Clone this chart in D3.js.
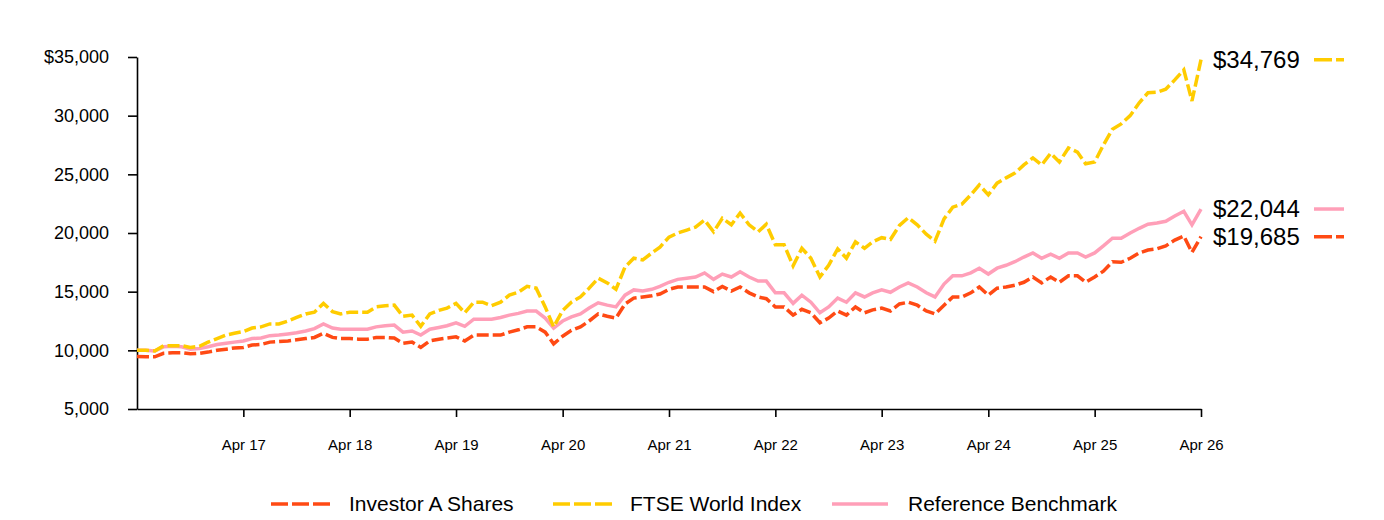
<!DOCTYPE html>
<html>
<head>
<meta charset="utf-8">
<script src="https://cdn.jsdelivr.net/npm/d3@7"></script>
<style>
  body { margin: 0; background: #fff; }
  text { font-family: "Liberation Sans", Arial, sans-serif; fill: #000; }
</style>
</head>
<body>
<div id="chart"></div>
<script>
// monthly values, Apr 2016 .. Apr 2026
var investorA = [
  9475, 9450, 9450, 9750, 9800, 9800, 9700, 9750, 9850, 10000, 10100, 10200,
  10250, 10450, 10500, 10700, 10750, 10800, 10900, 11000, 11100, 11450, 11100, 11000,
  11000, 10950, 10950, 11100, 11100, 11050, 10600, 10700, 10250, 10800, 10950, 11050,
  11150, 10800, 11300, 11300, 11300, 11300, 11550, 11750, 12000, 12000, 11550, 10550,
  11200, 11700, 12000, 12500, 13100, 12900, 12750, 13950, 14450, 14550, 14650, 14800,
  15200, 15400, 15400, 15400, 15400, 15000, 15450, 15050, 15400, 14900, 14550, 14400,
  13700, 13700, 13000, 13500, 13200, 12350, 12750, 13350, 13000, 13700, 13200, 13450,
  13600, 13350, 13950, 14100, 13850, 13350, 13100, 13850, 14550, 14550, 14900, 15400,
  14700, 15300, 15400, 15550, 15800, 16250, 15750, 16250, 15800, 16350, 16350, 15800,
  16250, 16750, 17550, 17500, 17850, 18300, 18550, 18650, 18900, 19400, 19750, 18350,
  19685
];
var ftseWorld = [
  10000, 10000, 9950, 10400, 10400, 10400, 10250, 10350, 10700, 11000, 11300, 11450,
  11600, 11900, 12000, 12250, 12250, 12500, 12800, 13100, 13250, 14000, 13300, 13100,
  13250, 13250, 13250, 13700, 13800, 13850, 12900, 13000, 12050, 13100, 13400, 13600,
  14000, 13200, 14100, 14100, 13800, 14100, 14700, 14950, 15450, 15300, 13700, 12000,
  13400, 14100, 14550, 15300, 16150, 15750, 15200, 17100, 17850, 17700, 18300, 18800,
  19650, 20000, 20250, 20500, 21100, 20100, 21250, 20700, 21700, 20700, 20100, 20750,
  19000, 19000, 17200, 18700, 17850, 16250, 17250, 18650, 17850, 19250, 18700, 19250,
  19600, 19450, 20650, 21300, 20700, 19900, 19300, 21200, 22200, 22450, 23250, 24100,
  23250, 24250, 24700, 25100, 25800, 26400, 25800, 26800, 26050, 27250, 26900, 25900,
  26050, 27500, 28850, 29300, 30000, 31100, 31950, 32000, 32250, 33050, 33900, 31250,
  34769
];
var refBenchmark = [
  10000, 10000, 9950, 10300, 10350, 10300, 10100, 10150, 10300, 10500, 10600, 10700,
  10800, 11000, 11050, 11250, 11300, 11400, 11500, 11650, 11850, 12250, 11900, 11800,
  11800, 11800, 11800, 12000, 12100, 12150, 11550, 11650, 11300, 11800, 11950, 12100,
  12350, 12050, 12650, 12650, 12650, 12800, 13000, 13150, 13350, 13350, 12750, 11900,
  12500, 12850, 13100, 13600, 14050, 13850, 13700, 14700, 15150, 15050, 15200, 15450,
  15800, 16050, 16150, 16250, 16600, 16050, 16500, 16250, 16700, 16250, 15900, 15900,
  14900, 14900, 14000, 14700, 14100, 13200, 13700, 14450, 14100, 14900, 14550, 14900,
  15150, 14950, 15400, 15750, 15400, 14900, 14550, 15650, 16350, 16350, 16600, 17000,
  16500, 17000, 17250, 17550, 17950, 18300, 17850, 18200, 17850, 18300, 18300, 17950,
  18300, 18900, 19550, 19550, 20000, 20400, 20750, 20850, 21000, 21450, 21850, 20700,
  22044
];
var yTicks = [5000, 10000, 15000, 20000, 25000, 30000, 35000];
var seriesNames = ["Investor A Shares", "FTSE World Index", "Reference Benchmark"];
var seriesColors = ["#FF4A14", "#FFCC00", "#FF9FB8"];

var startDate = new Date(2016, 3, 1);
var dates = investorA.map(function(d, i) { return d3.timeMonth.offset(startDate, i); });

var width = 1384, height = 520;
var margin = {top: 57, right: 183, bottom: 111, left: 137};

var svg = d3.select("#chart")
  .append("svg")
    .attr("width", width)
    .attr("height", height);

var x = d3.scaleTime()
  .domain([dates[0], dates[dates.length - 1]])
  .range([margin.left, width - margin.right]);

var y = d3.scaleLinear()
  .domain([5000, 35000])
  .range([height - margin.bottom, margin.top]);

// x axis
var xAxis = svg.append("g")
  .attr("transform", "translate(0," + (height - margin.bottom) + ")")
  .call(d3.axisBottom(x)
    .tickValues(d3.timeYear.range(new Date(2016, 3, 1), new Date(2026, 4, 1)).map(function(d) { return new Date(d.getFullYear(), 3, 1); }))
    .tickFormat(function(d) { return d.getFullYear() == 2016 ? "" : d3.timeFormat("%b %y")(d); })
    .tickSize(8)
    .tickSizeOuter(0)
    .tickPadding(22));
xAxis.selectAll("text").style("font-size", "15px");

// y axis
var yAxis = svg.append("g")
  .attr("transform", "translate(" + margin.left + ",0)")
  .call(d3.axisLeft(y)
    .tickValues(yTicks)
    .tickFormat(function(d) { return (d == 35000 ? "$" : "") + d3.format(",")(d); })
    .tickSize(9)
    .tickSizeOuter(0)
    .tickPadding(19));
yAxis.selectAll("text").style("font-size", "18px");

svg.selectAll(".domain, .tick line")
  .attr("stroke", "#000")
  .attr("stroke-width", 1.6);

var line = d3.line()
  .x(function(d, i) { return x(dates[i]); })
  .y(function(d) { return y(d); });

// pink underneath, then orange, then yellow on top
var drawOrder = [
  {data: refBenchmark, color: seriesColors[2], dash: null},
  {data: investorA, color: seriesColors[0], dash: "12,4"},
  {data: ftseWorld, color: seriesColors[1], dash: "12,4"}
];
drawOrder.forEach(function(s) {
  svg.append("path")
    .datum(s.data)
    .attr("fill", "none")
    .attr("stroke", s.color)
    .attr("stroke-width", 3.5)
    .attr("stroke-dasharray", s.dash)
    .attr("d", line);
});

// end value labels
var endLabels = [
  {value: ftseWorld[ftseWorld.length - 1], color: seriesColors[1], dash: "18,4"},
  {value: refBenchmark[refBenchmark.length - 1], color: seriesColors[2], dash: null},
  {value: investorA[investorA.length - 1], color: seriesColors[0], dash: "18,4"}
];
endLabels.forEach(function(l) {
  var yy = y(l.value);
  svg.append("text")
    .attr("x", 1213)
    .attr("y", yy)
    .attr("dy", "0.35em")
    .style("font-size", "24px")
    .text("$" + d3.format(",")(l.value));
  svg.append("line")
    .attr("x1", 1314).attr("x2", 1344)
    .attr("y1", yy).attr("y2", yy)
    .attr("stroke", l.color)
    .attr("stroke-width", 3.5)
    .attr("stroke-dasharray", l.dash);
});

// legend
var legendItems = [
  {name: seriesNames[0], color: seriesColors[0], dash: "17,4", x1: 271, x2: 331, tx: 349},
  {name: seriesNames[1], color: seriesColors[1], dash: "17,4", x1: 553, x2: 613, tx: 630},
  {name: seriesNames[2], color: seriesColors[2], dash: null, x1: 832, x2: 888, tx: 908}
];
var legend = svg.append("g");
legendItems.forEach(function(l) {
  legend.append("line")
    .attr("x1", l.x1).attr("x2", l.x2)
    .attr("y1", 504).attr("y2", 504)
    .attr("stroke", l.color)
    .attr("stroke-width", 3.5)
    .attr("stroke-dasharray", l.dash);
  legend.append("text")
    .attr("x", l.tx)
    .attr("y", 504)
    .attr("dy", "0.35em")
    .style("font-size", "21px")
    .text(l.name);
});
</script>
</body>
</html>
